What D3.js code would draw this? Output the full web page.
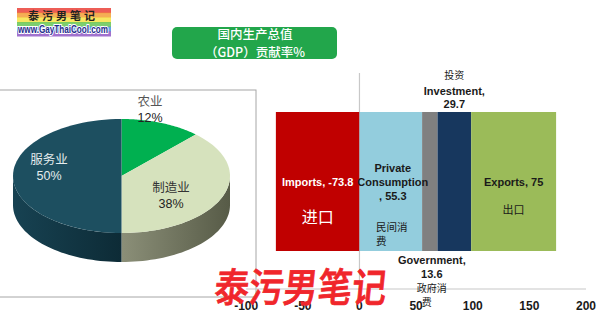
<!DOCTYPE html>
<html>
<head>
<meta charset="utf-8">
<script src="https://cdn.jsdelivr.net/npm/d3@7"></script>
<style>
  html, body { margin: 0; padding: 0; background: #fff; }
  svg { display: block; font-family: "Liberation Sans", Arial, "Noto Sans CJK SC", sans-serif; }
</style>
</head>
<body>
<svg id="chart" width="600" height="324"></svg>
<script>
// GDP share by sector
const pieLabels = ["农业", "制造业", "服务业"];
const pieValues = [12, 38, 50];

// Contribution to GDP by expenditure component
const barKeys = ["Imports", "Private", "Government", "Investment", "Exports"];
const barValues = [-73.8, 55.3, 13.6, 29.7, 75];
const xTicks = [-100, -50, 0, 50, 100, 150, 200];

const svg = d3.select("#chart");
const CJK = "'Noto Sans CJK SC', sans-serif";

// ---- site badge (top-left) ----
const badge = svg.append("g");
const stripes = ["#e8342c", "#f39a2a", "#f5e13a", "#5cc24a", "#3a8fe0", "#8a4fc2"];
const stripeY = d3.scaleBand().domain(d3.range(stripes.length)).range([8, 36]);
badge.selectAll("rect").data(stripes).join("rect")
  .attr("x", 17).attr("width", 94)
  .attr("y", (d, i) => stripeY(i)).attr("height", stripeY.bandwidth() + 0.5)
  .attr("fill", d => d).attr("opacity", 0.8);
badge.append("text").attr("x", 63).attr("y", 20).attr("text-anchor", "middle")
  .attr("font-family", CJK).attr("font-size", 11).attr("font-weight", 700)
  .attr("fill", "#222").attr("letter-spacing", 3).text("泰污男笔记");
badge.append("text").attr("x", 63).attr("y", 33).attr("text-anchor", "middle")
  .attr("font-size", 10).attr("font-weight", 700).attr("fill", "#1d2b8c")
  .attr("stroke", "#fff").attr("stroke-width", 2).attr("paint-order", "stroke")
  .attr("textLength", 90).attr("lengthAdjust", "spacingAndGlyphs").text("www.GayThaiCool.com");

// ---- title box ----
svg.append("rect").attr("x", 172).attr("y", 27).attr("width", 165).attr("height", 32)
  .attr("rx", 5).attr("fill", "#22a64b");
svg.append("text").attr("x", 255).attr("y", 39).attr("text-anchor", "middle")
  .attr("font-family", CJK).attr("font-size", 12.5).attr("font-weight", 500).attr("fill", "#fff").text("国内生产总值");
svg.append("text").attr("x", 255).attr("y", 57).attr("text-anchor", "middle")
  .attr("font-family", CJK).attr("font-size", 12.5).attr("font-weight", 500).attr("fill", "#fff").text("（GDP）贡献率%");

// ---- 3D pie ----
svg.append("rect").attr("x", -2).attr("y", 90).attr("width", 258).attr("height", 207)
  .attr("fill", "none").attr("stroke", "#a6a6a6").attr("stroke-width", 1);

const cx = 121.5, cy = 176, rx = 108.5, ry = 57, depth = 29;
const topColors = ["#00b050", "#d6e2bd", "#1d4f60"];
const pie = d3.pie().sort(null).value(d => d)(pieValues);

const defs = svg.append("defs");
const g1 = defs.append("linearGradient").attr("id", "sideBeige");
g1.append("stop").attr("offset", "0%").attr("stop-color", "#8b8f78");
g1.append("stop").attr("offset", "100%").attr("stop-color", "#575b47");
const g2 = defs.append("linearGradient").attr("id", "sideTeal");
g2.append("stop").attr("offset", "0%").attr("stop-color", "#174252");
g2.append("stop").attr("offset", "100%").attr("stop-color", "#0d2b36");
const sideFill = [null, "url(#sideBeige)", "url(#sideTeal)"];

const ex = a => cx + rx * Math.sin(a);
const ey = a => cy - ry * Math.cos(a);

function sidePath(a0, a1) {
  const n = 40, pts = d3.range(n + 1).map(i => a0 + (a1 - a0) * i / n);
  let d = "M" + pts.map(a => [ex(a), ey(a)].join(",")).join("L");
  d += "L" + pts.slice().reverse().map(a => [ex(a), ey(a) + depth].join(",")).join("L") + "Z";
  return d;
}
function topPath(a0, a1) {
  const n = 60, pts = d3.range(n + 1).map(i => a0 + (a1 - a0) * i / n);
  return `M${cx},${cy}L` + pts.map(a => [ex(a), ey(a)].join(",")).join("L") + "Z";
}

// front walls (visible between 90° and 270°)
pie.forEach((s, i) => {
  const a0 = Math.max(s.startAngle, Math.PI / 2), a1 = Math.min(s.endAngle, 3 * Math.PI / 2);
  if (a1 > a0) svg.append("path").attr("d", sidePath(a0, a1)).attr("fill", sideFill[i]);
});
// top faces
pie.forEach((s, i) => {
  svg.append("path").attr("d", topPath(s.startAngle, s.endAngle)).attr("fill", topColors[i]);
});

// pie labels
const pieLab = [
  { x: 150, y: 106, name: "#555", pct: "#222" },
  { x: 171, y: 192, name: "#333", pct: "#222" },
  { x: 49, y: 164, name: "#e4ecee", pct: "#e4ecee" }
];
pie.forEach((s, i) => {
  const L = pieLab[i];
  svg.append("text").attr("x", L.x).attr("y", L.y).attr("text-anchor", "middle")
    .attr("font-family", CJK).attr("font-size", 12.5).attr("fill", L.name).text(pieLabels[i]);
  svg.append("text").attr("x", L.x).attr("y", L.y + 16).attr("text-anchor", "middle")
    .attr("font-size", 12.5).attr("fill", L.pct).text(pieValues[i] + "%");
});

// ---- stacked contribution bar ----
const x = d3.scaleLinear().domain([-100, 200]).range([246.2, 586]);
const barTop = 112, barBottom = 251, axisY = 289;
const barColors = ["#c00000", "#93cddd", "#808080", "#17375e", "#9bbb59"];

const row = Object.fromEntries(barKeys.map((k, i) => [k, barValues[i]]));
const stacked = d3.stack().keys(barKeys).offset(d3.stackOffsetDiverging)([row]);

// axis line and zero line
svg.append("line").attr("x1", x(-100)).attr("x2", x(200)).attr("y1", axisY).attr("y2", axisY)
  .attr("stroke", "#c8c8c8").attr("stroke-width", 1.2);
svg.append("line").attr("x1", x(0)).attr("x2", x(0)).attr("y1", 73).attr("y2", axisY)
  .attr("stroke", "#c8c8c8").attr("stroke-width", 1.2);

svg.append("g").selectAll("rect").data(stacked).join("rect")
  .attr("x", d => x(Math.min(d[0][0], d[0][1])))
  .attr("width", d => Math.abs(x(d[0][1]) - x(d[0][0])))
  .attr("y", barTop).attr("height", barBottom - barTop)
  .attr("fill", (d, i) => barColors[i]);

const mid = k => { const s = stacked.find(d => d.key === k)[0]; return x((s[0] + s[1]) / 2); };

function lines(xc, ys, texts, opts) {
  texts.forEach((t, i) => {
    svg.append("text").attr("x", xc).attr("y", ys[i]).attr("text-anchor", opts.anchor || "middle")
      .attr("font-size", opts.size || 11).attr("font-weight", opts.weight || 700)
      .attr("font-family", opts.cjk ? CJK : null)
      .attr("fill", opts.fill || "#1a1a1a").text(t);
  });
}

const fmt = v => String(v);
// Investment (above the bar)
lines(mid("Investment"), [79], ["投资"], { cjk: true, size: 10, weight: 400 });
lines(mid("Investment"), [95, 108], ["Investment,", fmt(barValues[3])], { size: 11 });
// Imports
lines(mid("Imports"), [186], ["Imports, " + fmt(barValues[0])], { fill: "#fff", size: 11 });
lines(mid("Imports"), [223], ["进口"], { fill: "#fff", size: 16, weight: 400, cjk: true });
// Private consumption
lines(mid("Private") + 2, [172, 186, 200], ["Private", "Consumption", ", " + fmt(barValues[1])], { size: 11 });
lines(376, [231], ["民间消"], { anchor: "start", size: 10.5, weight: 400, cjk: true });
lines(376, [245], ["费"], { anchor: "start", size: 10.5, weight: 400, cjk: true });
// Exports
lines(mid("Exports"), [186], ["Exports, " + fmt(barValues[4])], { size: 11 });
lines(mid("Exports"), [214], ["出口"], { size: 11, weight: 400, cjk: true });
// Government (below the bar)
lines(mid("Government") + 2, [264, 278], ["Government,", fmt(barValues[2])], { size: 11 });
lines(mid("Government") + 2, [291.5], ["政府消"], { size: 10, weight: 400, cjk: true });
lines(mid("Government") - 3, [306], ["费"], { size: 10, weight: 400, cjk: true });

// x tick labels
svg.append("g").selectAll("text").data(xTicks).join("text")
  .attr("x", d => x(d)).attr("y", 310).attr("text-anchor", "middle")
  .attr("font-size", 12).attr("font-weight", 700).attr("fill", "#1a1a1a")
  .text(d => d);

// ---- brush-script watermark ----
svg.append("text").attr("x", 213).attr("y", 302)
  .attr("font-family", CJK).attr("font-size", 40).attr("font-weight", 500)
  .attr("fill", "#f0262b").attr("stroke", "#f0262b").attr("stroke-width", 0.8)
  .attr("textLength", 172).attr("lengthAdjust", "spacingAndGlyphs")
  .attr("transform", "skewX(-6) translate(32,0)")
  .text("泰污男笔记");
</script>
</body>
</html>
